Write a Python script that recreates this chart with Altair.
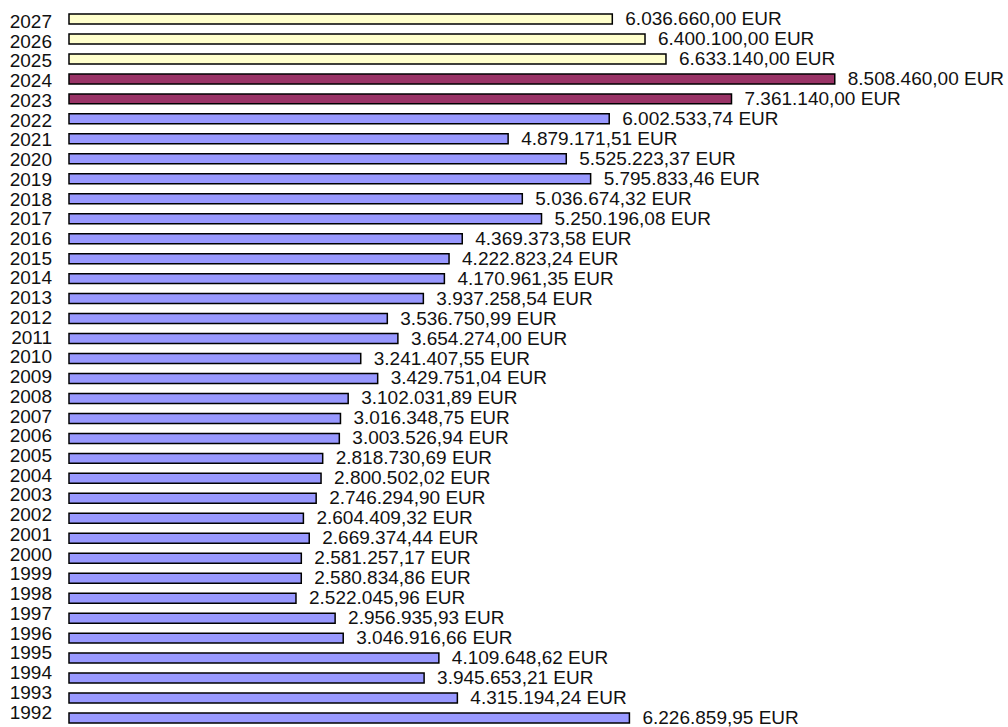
import altair as alt
import pandas as pd

# Annual amounts in EUR, newest first
years = [
    "2027", "2026", "2025", "2024", "2023", "2022", "2021", "2020", "2019",
    "2018", "2017", "2016", "2015", "2014", "2013", "2012", "2011", "2010",
    "2009", "2008", "2007", "2006", "2005", "2004", "2003", "2002", "2001",
    "2000", "1999", "1998", "1997", "1996", "1995", "1994", "1993", "1992",
]
amounts = [
    6036660.00, 6400100.00, 6633140.00, 8508460.00, 7361140.00, 6002533.74,
    4879171.51, 5525223.37, 5795833.46, 5036674.32, 5250196.08, 4369373.58,
    4222823.24, 4170961.35, 3937258.54, 3536750.99, 3654274.00, 3241407.55,
    3429751.04, 3102031.89, 3016348.75, 3003526.94, 2818730.69, 2800502.02,
    2746294.90, 2604409.32, 2669374.44, 2581257.17, 2580834.86, 2522045.96,
    2956935.93, 3046916.66, 4109648.62, 3945653.21, 4315194.24, 6226859.95,
]
# plan years, current years, closed years
groups = ["plan"] * 3 + ["current"] * 2 + ["actual"] * 31
group_names = ["plan", "current", "actual"]
group_colors = ["#FFFFCC", "#993366", "#9999FF"]


def eur(v):
    s = f"{v:,.2f}"
    return s.replace(",", "X").replace(".", ",").replace("X", ".") + " EUR"


df = pd.DataFrame({
    "year": years,
    "value": amounts,
    "group": groups,
    "label": [eur(v) for v in amounts],
})

FONT = "Liberation Sans"
base = alt.Chart(df)

x_enc = alt.X("value:Q", scale=alt.Scale(domain=[0, 10_000_000]), axis=None)
y_scale = alt.Scale(type="band", paddingInner=0.5, paddingOuter=0)

bars = base.mark_bar(stroke="black", strokeWidth=1.5).encode(
    x=x_enc,
    y=alt.Y(
        "year:N", sort=years, scale=y_scale,
        axis=alt.Axis(labels=False, ticks=False, domain=True,
                      domainColor="black", domainWidth=1, grid=False, title=None),
    ),
    color=alt.Color("group:N", scale=alt.Scale(domain=group_names, range=group_colors),
                    legend=None),
)

values = base.mark_text(
    align="left", baseline="middle", dx=13, dy=0, fontSize=19, font=FONT, color="#111"
).encode(
    x=x_enc,
    y=alt.Y("year:N", sort=years, scale=y_scale, axis=None),
    text="label:N",
)

year_labels = base.mark_text(
    align="right", baseline="middle", fontSize=19, font=FONT, color="#111"
).encode(
    x=alt.value(-17),
    y=alt.Y("year:N", sort=years,
            scale=alt.Scale(type="point", padding=0, range=[8, 698.5]), axis=None),
    text="year:N",
)

chart = (
    alt.layer(alt.layer(bars, values), year_labels)
    .resolve_scale(y="independent")
    .properties(
        width=900,
        height=709,
        background="white",
        autosize=alt.AutoSizeParams(type="none"),
        padding={"left": 69, "top": 14, "right": 39, "bottom": 4},
    )
    .configure_view(stroke=None)
)

chart.save("out.html", embed_options={"renderer": "svg", "actions": False})
